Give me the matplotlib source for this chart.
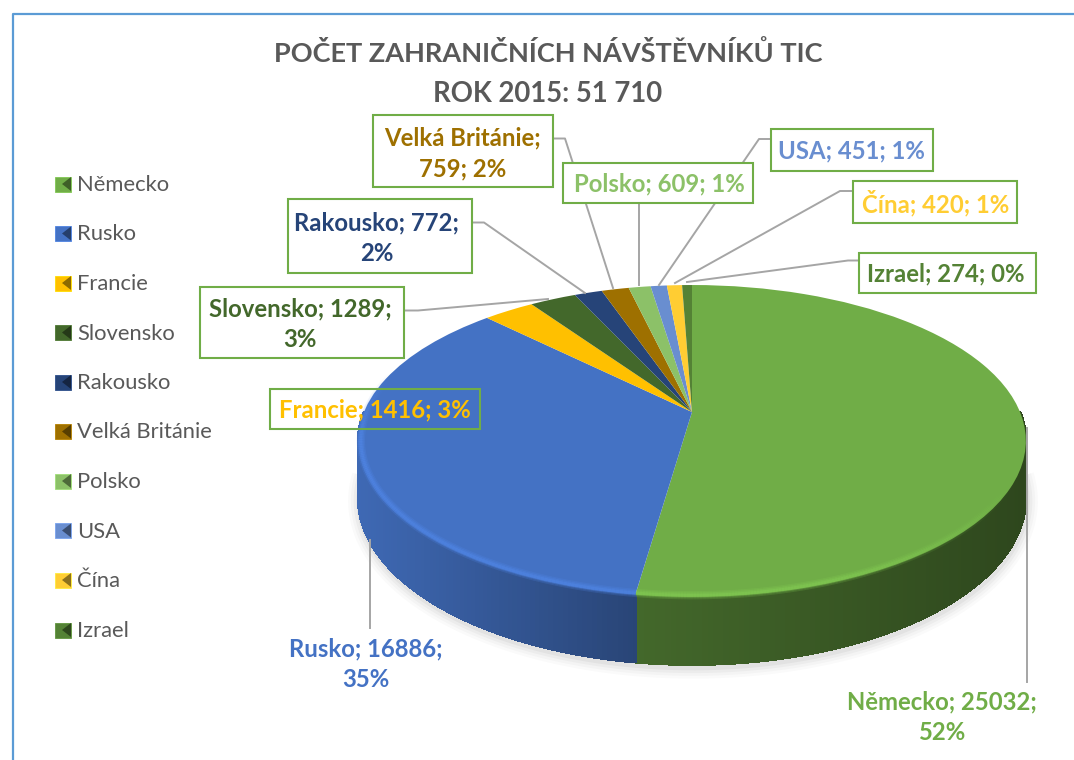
import numpy as np
import matplotlib
matplotlib.use('Agg')
import matplotlib.pyplot as plt
import matplotlib.transforms as mtrans
from matplotlib.collections import PolyCollection, LineCollection
from matplotlib.colors import to_rgb
from matplotlib.patches import Rectangle, Polygon

plt.rcParams['font.family'] = ['Lato', 'Open Sans', 'DejaVu Sans']

# data
countries = ['Německo', 'Rusko', 'Francie', 'Slovensko', 'Rakousko',
             'Velká Británie', 'Polsko', 'USA', 'Čína', 'Izrael']
visitors = [25032, 16886, 1416, 1289, 772, 759, 609, 451, 420, 274]
percents = [52, 35, 3, 3, 2, 2, 1, 1, 1, 0]
colors = ['#70ad47', '#4472c4', '#ffc000', '#43682b', '#264478',
          '#9e7000', '#8cc168', '#698ed0', '#ffcd33', '#548235']
title_lines = ['POČET ZAHRANIČNÍCH NÁVŠTĚVNÍKŮ TIC', 'ROK 2015: 51 710']

# perspective of the pie: apex, half width, half height, tilt, wall height
X0, Y0 = 692.0, 412.0
A, B, K = 328.0, 150.6, 0.186
WALL = 55.0


def project(x, y):
    w = 1 + K * y
    return X0 + A * x / w, Y0 - B * y / w


class PieProjection(mtrans.Transform):
    input_dims = 2
    output_dims = 2
    is_affine = False
    has_inverse = False

    def transform_non_affine(self, values):
        v = np.asarray(values, dtype=float)
        X, Y = project(v[:, 0], v[:, 1])
        return np.column_stack([X, Y])


def rim(t_deg, r=1.0):
    t = np.radians(t_deg)
    x, y = r * np.cos(t), r * np.sin(t)
    X, Y = project(x, y)
    return X, Y, WALL / (1 + K * y)


def shade(c, f):
    return tuple(min(1, v * f) for v in to_rgb(c))


fig = plt.figure(figsize=(10.74, 7.60), dpi=100)
ax = fig.add_axes([0, 0, 1, 1])

wedges, _ = ax.pie(visitors, colors=colors, startangle=90, counterclock=False,
                   center=(0, 0), radius=1, wedgeprops={'linewidth': 0})
proj = PieProjection()
for w in wedges:
    w.set_transform(proj + ax.transData)
    w.set_zorder(5)

ax.set_aspect('auto')
ax.set_xlim(0, 1074)
ax.set_ylim(760, 0)
ax.axis('off')

# soft shadow under the wall
ts = np.linspace(-178, -2, 300)
sx, sy, sd = rim(ts)
for lw, al in [(16, 0.018), (12, 0.025), (8, 0.03), (4, 0.04)]:
    ax.plot(sx + 1, sy + sd + 3, color='k', lw=lw, alpha=al, zorder=1,
            solid_capstyle='butt')

# wall, strip by strip, getting darker to the right
for w, c in zip(wedges, colors):
    t1, t2 = max(w.theta1, -180), min(w.theta2, 0)
    if w.theta2 <= -180 or t1 >= t2:
        continue
    tt = np.arange(t1, t2 + 0.75, 0.75)
    tt[-1] = t2
    X, Y, D = rim(tt)
    polys, cols = [], []
    for i in range(len(tt) - 1):
        polys.append([(X[i], Y[i]), (X[i + 1], Y[i + 1]),
                      (X[i + 1], Y[i + 1] + D[i + 1]), (X[i], Y[i] + D[i])])
        cols.append(shade(c, np.interp(X[i], [358, 638, 1026], [0.92, 0.6, 0.41])))
    ax.add_collection(PolyCollection(polys, facecolors=cols, edgecolors=cols,
                                     linewidths=1.2, antialiaseds=False, zorder=3))

# bevel along the front edge of the top, fading out towards the sides
for w, c in zip(wedges, colors):
    t1, t2 = max(w.theta1, -195), min(w.theta2, -25)
    if w.theta2 <= -195 or t1 >= t2:
        continue
    tt = np.linspace(t1, t2, 160)
    X, Y, D = rim(tt, 0.992)
    pts = np.column_stack([X, Y]).reshape(-1, 1, 2)
    segs = np.concatenate([pts[:-1], pts[1:]], axis=1)
    fade = np.interp(tt[:-1], [-195, -170, -70, -25], [0, 1, 0.9, 0])
    light = shade(c, 1.2)
    for lw, al in [(6, 0.22), (4, 0.3), (2, 0.4)]:
        rgba = [(*light, al * f) for f in fade]
        ax.add_collection(LineCollection(segs, colors=rgba, linewidths=lw,
                                         capstyle='butt', zorder=6))

# chart frame
ax.plot([12.5, 12.5, 1074], [760, 13.5, 13.5], color='#5b9bd5', lw=1.6, zorder=0)

# title
ax.text(548, 53.5, title_lines[0], ha='center', va='center', fontsize=19.5,
        fontweight='bold', color='#595959')
ax.text(548, 93.5, title_lines[1], ha='center', va='center', fontsize=19.8,
        fontweight='bold', color='#595959')

# legend
leg_y = [184, 233.5, 283, 332.5, 382, 431.5, 481, 530.5, 580, 630]
for name, c, y in zip(countries, colors, leg_y):
    ax.add_patch(Rectangle((55, y - 7.5), 16, 15, fc=c, ec=shade(c, 1.15), lw=0.6, zorder=4))
    ax.add_patch(Polygon([(71, y - 7), (62, y), (71, y + 7)], fc=shade(c, 0.55), ec='none', zorder=5))
    ax.text(77, y + 1, name, ha='left', va='center', fontsize=15.8, color='#595959')

# leader lines, under the boxes
leaders = [
    ([553, 565, 613], [138.5, 138.5, 288]),
    ([472, 484, 585], [222.5, 222.5, 293]),
    ([404, 418, 548], [310.5, 310.5, 299]),
    ([639, 639], [190, 285]),
    ([771, 759, 659], [139, 139, 285]),
    ([853, 840, 675], [191, 191, 283]),
    ([859, 848, 687], [260.5, 260.5, 282]),
    ([1027, 1027], [428, 682]),
    ([369.5, 369.5], [540, 628]),
]
for lx, ly in leaders:
    ax.plot(lx, ly, color='#a5a5a5', lw=1.4, zorder=7)

# data labels: box (x1, y1, x2, y2) or None, text position
label_text = [
    '{}; {};\n{}%', '{}; {};\n{}%', '{}; {}; {}%', '{}; {};\n{}%', '{}; {};\n{}%',
    '{};\n{}; {}%', '{}; {}; {}%', '{}; {}; {}%', '{}; {}; {}%', '{}; {}; {}%',
]
boxes = [None, None, (270, 389, 480, 429), (200, 287, 404, 358), (288, 199, 472, 273),
         (373, 115, 553, 187), (563, 163, 753, 203), (771, 129, 933, 171),
         (853, 181, 1017, 223), (859, 253, 1036, 293)]
centers = [(942, 717.5), (366, 664), (375, 410), (300, 324), (377, 238),
           (463, 153), (659, 184), (851, 151), (936, 203), (946, 274)]
for i, name in enumerate(countries):
    if boxes[i] is not None:
        x1, y1, x2, y2 = boxes[i]
        # Francie box is see-through over the pie
        fill = 'none' if name == 'Francie' else 'white'
        ax.add_patch(Rectangle((x1, y1), x2 - x1, y2 - y1, fc=fill, ec='#70ad47', lw=1.5, zorder=8))
    ax.text(centers[i][0], centers[i][1],
            label_text[i].format(name, visitors[i], percents[i]),
            ha='center', va='center', fontsize=17.2, fontweight='bold',
            color=colors[i], linespacing=1.42, zorder=9)

fig.savefig('out.png', dpi=100)
